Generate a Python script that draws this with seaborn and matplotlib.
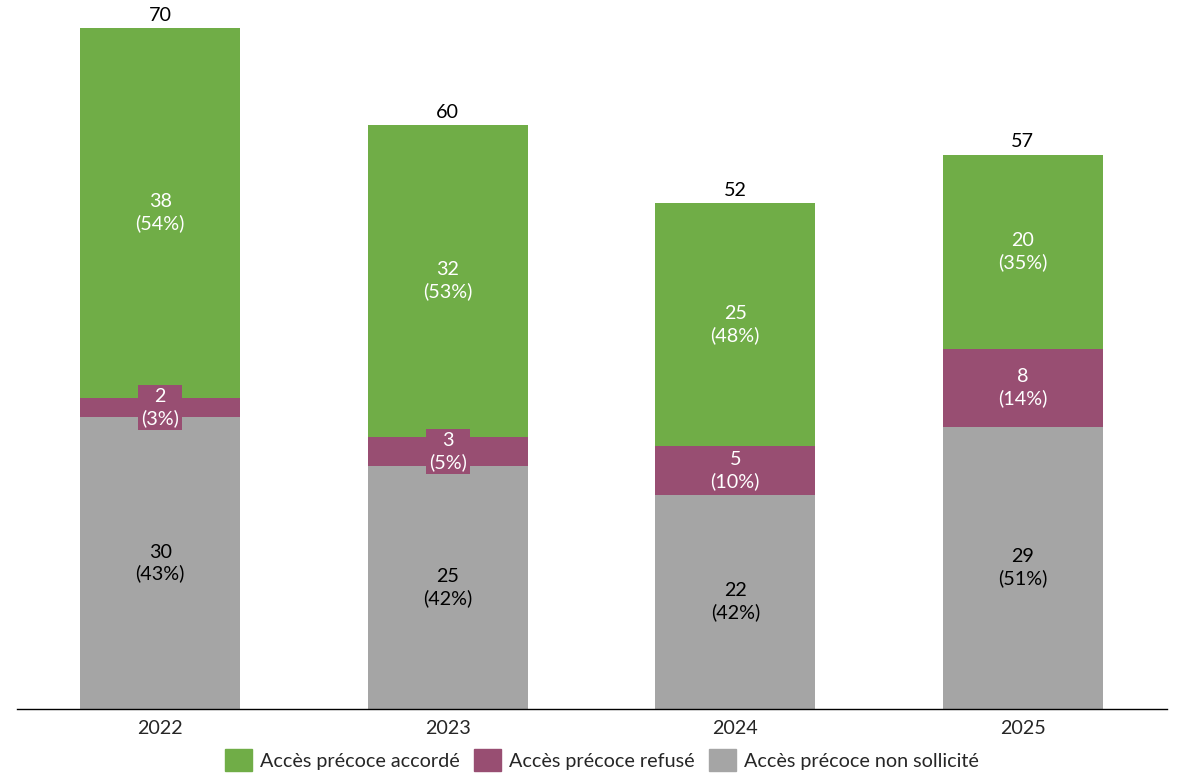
import pandas as pd
import numpy as np
import matplotlib
matplotlib.use("Agg")
import matplotlib.pyplot as plt
import seaborn as sns
from matplotlib.patches import Patch

# Data
years = ["2022", "2023", "2024", "2025"]
accorde = [38, 32, 25, 20]
refuse = [2, 3, 5, 8]
non_sollicite = [30, 25, 22, 29]
pct_accorde = [54, 53, 48, 35]
pct_refuse = [3, 5, 10, 14]
pct_non = [43, 42, 42, 51]

green = "#70AD47"
purple = "#984E72"
grey = "#A5A5A5"

sns.set_style("white")
plt.rcParams['font.family'] = ['Lato', 'DejaVu Sans']

df = pd.DataFrame({"year": years, "accorde": accorde, "refuse": refuse, "non": non_sollicite})
df["total"] = df["accorde"] + df["refuse"] + df["non"]
df["low2"] = df["refuse"] + df["non"]

fig = plt.figure(figsize=(11.83, 7.82), dpi=100)
ax = fig.add_axes([16.5 / 1183, (782 - 709) / 782, 1150 / 1183, (709 - 8.6) / 782])

# stacked bars drawn back to front
bar_kw = dict(width=0.556, saturation=1, linewidth=0, edgecolor="none", ax=ax)
sns.barplot(data=df, x="year", y="total", color=green, **bar_kw)
sns.barplot(data=df, x="year", y="low2", color=purple, **bar_kw)
sns.barplot(data=df, x="year", y="non", color=grey, **bar_kw)

ax.set_xlim(-0.5, 3.5)
ax.set_ylim(0, 72)
fs = 14.2
ls = 1.28

for i in range(len(years)):
    n = non_sollicite[i]
    r = refuse[i]
    a = accorde[i]
    ax.text(i, n / 2, f"{n}\n({pct_non[i]}%)", ha="center", va="center",
            color="black", fontsize=fs, linespacing=ls)
    box = None
    if r < 4:
        box = dict(boxstyle="square,pad=0.15", fc=purple, ec="none")
    ax.text(i, n + r / 2, f"{r}\n({pct_refuse[i]}%)", ha="center", va="center",
            color="white", fontsize=fs, linespacing=ls, bbox=box)
    ax.text(i, n + r + a / 2, f"{a}\n({pct_accorde[i]}%)", ha="center", va="center",
            color="white", fontsize=fs, linespacing=ls)
    ax.annotate(str(n + r + a), (i, n + r + a), xytext=(0, 3), textcoords="offset points",
                ha="center", va="bottom", fontsize=fs, color="black")

ax.set_xlabel("")
ax.set_ylabel("")
ax.set_yticks([])
for s in ["top", "left", "right"]:
    ax.spines[s].set_visible(False)
ax.spines["bottom"].set_color("black")
ax.spines["bottom"].set_linewidth(1)
ax.tick_params(axis="x", length=0, labelsize=fs, pad=8)

handles = [Patch(color=green, label="Accès précoce accordé"),
           Patch(color=purple, label="Accès précoce refusé"),
           Patch(color=grey, label="Accès précoce non sollicité")]
fig.legend(handles=handles, loc="center", bbox_to_anchor=(602 / 1183, 1 - 760 / 782),
           ncol=3, frameon=False, fontsize=fs, handlelength=1.4, handleheight=1.3,
           handletextpad=0.4, columnspacing=0.7)

fig.savefig("out.png", dpi=100)
